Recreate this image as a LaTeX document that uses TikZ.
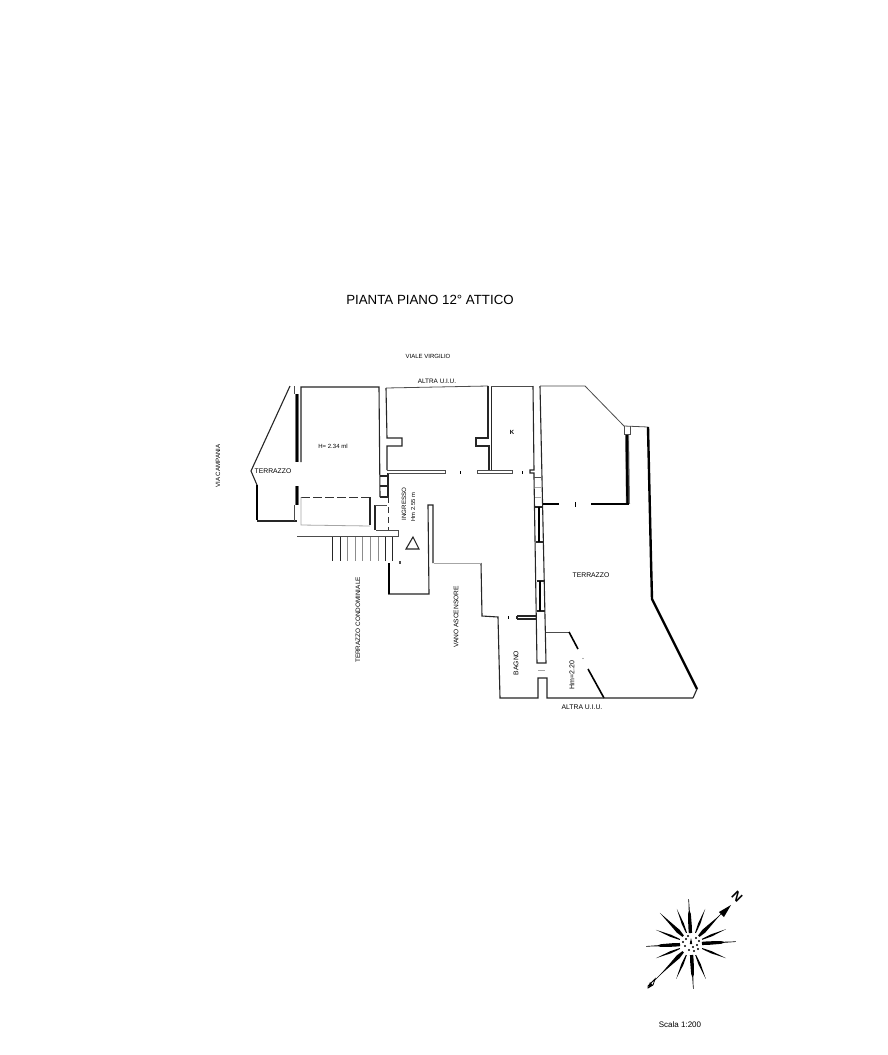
\documentclass[tikz,border=0pt]{standalone}
\usepackage{fontspec}
\setmainfont{Liberation Sans}
\newcommand{\lab}[1]{\fontsize{#1}{#1}\selectfont}
\tikzset{
  wall/.style={draw=black!85,line width=1.1pt,line join=miter},
  lightwall/.style={draw=black!70,line width=0.8pt},
  faint/.style={draw=black!35,line width=0.8pt},
  heavy/.style={draw=black,line width=2.4pt},
  halo/.style={draw=black!55,line width=4pt},
  dashwall/.style={draw=black!80,line width=1pt,dash pattern=on 9pt off 3pt},
  txt/.style={inner sep=0pt,text=black},
  ray/.style={fill=black,draw=none},
}
\begin{document}
\begin{tikzpicture}[x=1pt,y=-1pt]
\useasboundingbox (0,0) rectangle (887,1055);
\fill[white] (0,0) rectangle (887,1055);

% titles and labels
\node[txt] (title) at (430,300) {\lab{13.3}PIANTA PIANO 12° ATTICO};
\node[txt] (viale) at (428,356) {\lab{6}VIALE VIRGILIO};
\node[txt] (altra1) at (437,381) {\lab{6.4}ALTRA U.I.U.};
\node[txt,rotate=90] (via) at (218,466) {\lab{6.2}VIA CAMPANIA};
\node[txt] (terr1) at (273,471) {\lab{6.8}TERRAZZO};
\node[txt] (h1) at (333,446) {\lab{6}H= 2.34 ml};
\node[txt] (k) at (512,432) {\lab{6}\bfseries K};
\node[txt,rotate=90] (ing) at (404,504) {\lab{6.2}INGRESSO};
\node[txt,rotate=90] (hm) at (413,507) {\lab{5.8}Hm 2.55 m};
\node[txt,rotate=90] (cond) at (358,620) {\lab{6.4}TERRAZZO CONDOMINIALE};
\node[txt,rotate=90] (vano) at (456,617) {\lab{6.6}VANO ASCENSORE};
\node[txt] (terr2) at (591,575) {\lab{6.8}TERRAZZO};
\node[txt,rotate=90] (bagno) at (516,663) {\lab{6.8}BAGNO};
\node[txt,rotate=90] (hm2) at (572,675) {\lab{7}Hm=2.20};
\node[txt] (altra2) at (582,707) {\lab{6.8}ALTRA U.I.U.};
\node[txt] (scala) at (680,1025) {\lab{8}Scala 1:200};

% left terrace
\draw[wall] (290,386) -- (251,471) -- (257,485);
\draw[heavy] (257,485) -- (257,520);
\draw[wall] (257,521) -- (297,521);
\draw[halo] (297,394) -- (297,462);
\draw[halo] (297,486) -- (297,505);
\draw[heavy] (297,394) -- (297,462);
\draw[heavy,line width=1.6pt] (297,486) -- (297,505);
\draw[lightwall] (294,386) -- (294,394);
\draw[lightwall] (294,505) -- (294,521);

% room H=2.34
\draw[wall] (301,462) -- (301,387) -- (379,387) -- (380,497);
\draw[dashwall] (301,497) -- (370,497);
\draw[wall] (370,497) -- (370,525);
\draw[faint] (301,497) -- (301,525) -- (370,526);

% ladder / small wall
\draw[wall] (380,476) -- (388,476) (380,486) -- (388,486) (380,497) -- (388,497);
\draw[wall] (388,473) -- (388,497);
\draw[draw=black!80,line width=1pt,dash pattern=on 6pt off 4pt] (388,497) -- (388,530);
\draw[wall] (375,530) -- (375,505);
\draw[lightwall] (375,505) -- (387,505);

% landing and stairs
\draw[lightwall] (297,536) -- (398,536) -- (398,530) -- (376,530);
\foreach \sx/\sc in {332/85,340/85,347/45,355/45,362/45,370/45,378/45,385/85,392/85}
  \draw[draw=black!\sc,line width=1pt] (\sx,537) -- (\sx,561);

% entrance shaft
\draw[wall] (388,594) -- (429,594) -- (428,505) -- (433,505) -- (433,563);
\draw[heavy] (389,563) -- (389,594);
\draw[wall,draw=black!70] (400,561) -- (400,564);
\draw[wall] (413,537) -- (406,549) -- (419,549) -- cycle;

% central room
\draw[lightwall] (386,388) -- (488,386);
\draw[wall] (386,388) -- (387,438) -- (402,438) -- (402,446) -- (387,446) -- (387,470);
\draw[lightwall] (387,470) -- (445,470) -- (445,473.5) -- (388,473.5);
\fill[black] (459.5,471) rectangle (461,473.5);
\draw[wall] (488,386) -- (488,438) -- (476,438) -- (476,446) -- (489,446) -- (489,470);
\draw[wall] (491.5,386) -- (491.5,470);
\draw[lightwall] (477,470) -- (512,470) -- (512,473.5) -- (477,473.5) -- cycle;
\fill[black] (521.5,471) rectangle (522.5,473.5);
\draw[lightwall] (491,386) -- (533,386);
\draw[wall] (533,386) -- (534,470) -- (530,470) -- (530,473) -- (534,473) -- (534,477);

% long double wall
\draw[wall] (534,477) -- (537,663) -- (546,663) -- (540,386);
\draw[lightwall] (534,477) -- (541,477);
\draw[faint] (535,487) -- (541,487) (535,497) -- (541,497);
\draw[wall] (535,507) -- (542,507) (536,542) -- (543,542);
\draw[heavy,line width=2pt] (538.5,507) -- (538.5,542);
\draw[wall] (536.5,581) -- (544,581) (536.5,611) -- (545,611);
\draw[heavy,line width=2pt] (540,581) -- (540,611);
\draw[faint] (538,670) -- (545,670);

% right terrace
\draw[lightwall] (540,386) -- (585,386) -- (624,426);
\draw[lightwall] (624,426) -- (648,427);
\draw[lightwall] (624,426) -- (624,434) -- (630,434) -- (630,426);
\draw[heavy] (648,427) -- (651,560) -- (652,599) -- (697,689);
\draw[wall] (697,689) -- (693,698);
\draw[halo] (627,435) -- (628,504);
\draw[heavy] (627,435) -- (627.5,504);
\draw[heavy] (543,504) -- (559,504);
\fill[black] (574.5,502) rectangle (576,507);
\draw[heavy] (591,504) -- (628.5,504);
\draw[lightwall] (546,632) -- (569,632);
\draw[heavy,line width=1.6pt] (569,632) -- (578,649);
\fill[black!60] (583,658.5) circle (0.6);
\draw[heavy,line width=1.6pt] (588,669) -- (604,698);

% lower outline
\draw[wall] (693,698) -- (547,698) -- (547,678) -- (538,678) -- (538,698) -- (500,698) -- (498,617) -- (482,616) -- (481,563);
\draw[faint] (481,563) -- (434,563);
\draw[wall] (517,616) -- (537,616) (517,619) -- (537,619) (517,616) -- (517,619);
\fill[black] (507.5,615.5) rectangle (508.7,619);

% compass
\begin{scope}[shift={(691,944)}]
  \foreach \a in {-87,3,93,183}{
    \fill[ray,rotate=\a] (11,-1.6) -- (17,-1.8) -- (30,-1.4) -- (33,-0.5) -- (45,-0.25) -- (45,0.25) -- (33,0.5) -- (30,1.4) -- (17,1.8) -- (11,1.6) -- cycle;
  }
  \foreach \a in {-135,135}{
    \fill[ray,rotate=\a] (11,-1) -- (18,-2) -- (28,-1.2) -- (44,0) -- (28,1.2) -- (18,2) -- (11,1) -- cycle;
  }
  \fill[ray,rotate=45] (11,-1) -- (18,-2) -- (28,-1.2) -- (40,0) -- (28,1.2) -- (18,2) -- (11,1) -- cycle;
  \foreach \a in {-113,-67,-22,23,68,112,158,202}{
    \fill[ray,rotate=\a] (12,-0.5) -- (22,-1.1) -- (38,0) -- (22,1.1) -- (12,0.5) -- cycle;
  }
  % north-east arrow and south-west arrow
  \draw[black,line width=0.5pt] (10,-10) -- (33,-33);
  \fill[black] (28,-32) -- (40,-39) -- (33,-27) -- cycle;
  \draw[black,line width=0.5pt] (-10,10) -- (-38,38);
  \draw[black,line width=0.8pt,fill=white] (-43,42) -- (-36,35) -- (-38,41) -- (-43,44) -- cycle;
  \fill[black] (-43,44) -- (-41,38) -- (-38,41) -- cycle;
  % centre
  \foreach \p/\q in {0/-2,5/-6,-5/-5,6/1,-6/2,-2/6,3/7,7/5,-8/-2,2/3,-3/-8,8/-3}
    \fill[black] (\p,\q) circle (1.1);
  \fill[black] (0,-6) -- (1.2,0) -- (-1.2,0) -- cycle;
  \node[txt] (north) at (46,-47) {\lab{13}\bfseries\rotatebox{-45}{N}};
\end{scope}
\end{tikzpicture}
\end{document}
